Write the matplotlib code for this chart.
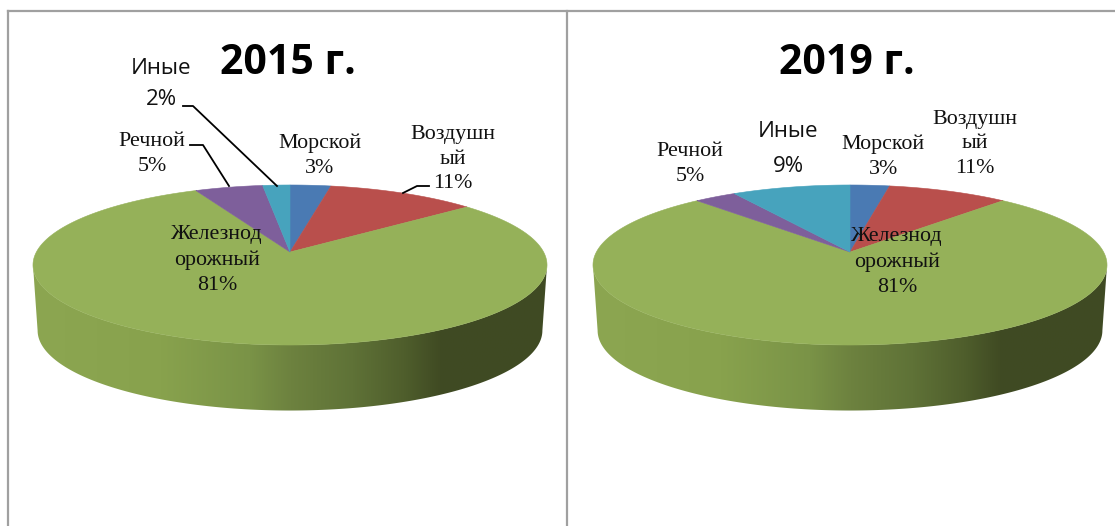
import numpy as np
import matplotlib
matplotlib.use("Agg")
import matplotlib.pyplot as plt
from matplotlib.colors import LinearSegmentedColormap
from matplotlib.patches import Polygon

titles = ["2015 г.", "2019 г."]
categories = ["Морской", "Воздушн\nый", "Железнод\nорожный", "Речной", "Иные"]
# percentages printed on the labels
labels_2015 = [3, 11, 81, 5, 2]
labels_2019 = [3, 11, 81, 5, 9]
# shares as drawn, they do not quite agree with the labels in the picture
slices_2015 = [3, 11, 79, 5, 2]
slices_2019 = [2.9, 8.9, 76.4, 3.1, 8.7]
colors = ["#4a7ab3", "#b94f4c", "#95b159", "#7e5f9b", "#47a3bd"]

# layout in pixels of the reference
centers = [290, 850]
apex_y = 252
radius = 253.6
height = 77.9
persp = 0.1625
depth = 65.5
serif_pos_2015 = [(320, 156), (453, 159), (217, 260), (152, 154)]
serif_pos_2019 = [(883, 157), (975, 144), (897, 262), (690, 164)]
other_pos = [(161, 84), (788, 149)]
other_spacing = [1.65, 1.87]
title_pos = [(288, 63), (847, 63)]
leaders = [[(183, 106), (193, 106), (277, 186)],
           [(190, 145), (203, 145), (229, 186)],
           [(403, 193), (417, 186), (429, 186)]]

side_cmap = LinearSegmentedColormap.from_list("side", [
    (0.0, "#8ca651"), (0.25, "#88a24d"), (0.42, "#7a9347"), (0.5, "#6d823f"),
    (0.62, "#5f7237"), (0.72, "#4f5e2c"), (0.79, "#404b23"), (1.0, "#3f4a23")])


def project(cx, angle, scale=1.0, dy=0.0):
    u = np.sin(angle)
    v = np.cos(angle)
    w = 1 + persp * v
    return cx + scale * radius * u / w, apex_y + dy - height * v / w


def draw_side(ax, cx):
    # from one widest point of the ellipse round the front to the other
    start = np.arccos(-persp)
    t = np.linspace(start, 2 * np.pi - start, 300)
    x1, y1 = project(cx, t)
    x2, y2 = project(cx, t[::-1], 0.982, depth)
    pts = np.column_stack([np.r_[x1, x2], np.r_[y1, y2]])
    patch = Polygon(pts, closed=True, fc="none", ec="none")
    ax.add_patch(patch)
    grad = np.linspace(0, 1, 512).reshape(1, -1)
    im = ax.imshow(grad, cmap=side_cmap, aspect="auto", interpolation="bilinear",
                   extent=[x1.min() - 1, x1.max() + 1, y2.max() + 1, y1.min() - 1])
    im.set_clip_path(patch)


def draw_top(ax, cx, values):
    edges = np.cumsum([0] + values) / sum(values) * 2 * np.pi
    for i in range(len(values)):
        t = np.linspace(edges[i], edges[i + 1], 300)
        x, y = project(cx, t)
        ax.fill(np.r_[cx, x], np.r_[apex_y, y], color=colors[i], lw=0.4)


fig = plt.figure(figsize=(11.15, 5.26), dpi=100)
ax = fig.add_axes([0, 0, 1, 1])
ax.axis("off")

for cx, values in zip(centers, [slices_2015, slices_2019]):
    draw_side(ax, cx)
    draw_top(ax, cx, values)

ax.set_xlim(0, 1115)
ax.set_ylim(526, 0)

# panel frame
ax.plot([8, 8], [526, 11], color="#a0a0a0", lw=1.6)
ax.plot([8, 1115], [11, 11], color="#a0a0a0", lw=1.6)
ax.plot([567, 567], [11, 526], color="#a0a0a0", lw=1.6)

for (x, y), t in zip(title_pos, titles):
    ax.text(x, y, t, ha="center", va="center", fontsize=29.5, fontweight="bold",
            family="Open Sans", color="black")

for pos, values in zip([serif_pos_2015, serif_pos_2019], [labels_2015, labels_2019]):
    for (x, y), name, v in zip(pos, categories, values):
        ax.text(x, y, f"{name}\n{v}%", ha="center", va="center", fontsize=15.8,
                family="Liberation Serif", linespacing=1.42, color="#111111")

for (x, y), v, ls in zip(other_pos, [labels_2015[4], labels_2019[4]], other_spacing):
    ax.text(x, y, f"{categories[4]}\n{v}%", ha="center", va="center", fontsize=16,
            family="Open Sans", linespacing=ls, color="#111111")

for line in leaders:
    xs, ys = zip(*line)
    ax.plot(xs, ys, color="black", lw=1.3)

fig.savefig("out.png", dpi=100)
